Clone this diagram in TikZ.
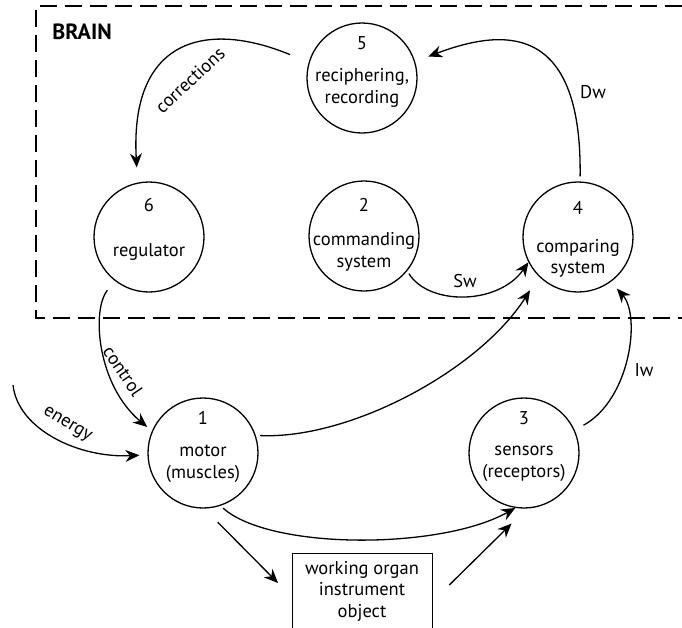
\documentclass[tikz,border=0pt]{standalone}
\usepackage{fontspec}
\setmainfont{PT Sans}
\usetikzlibrary{arrows.meta,calc}
\begin{document}
\begin{tikzpicture}[x=1pt,y=-1pt,
  unit/.style={circle,draw,line width=1.3pt,minimum size=110pt,inner sep=0pt},
  txt/.style={font=\fontsize{18.5}{21.5}\selectfont,align=center,inner sep=0pt},
  flow/.style={line width=1.3pt,-{Stealth[length=14pt,width=12pt,inset=4.5pt]}},
  lbl/.style={font=\fontsize{18.5}{20}\selectfont,inner sep=0pt}]
\useasboundingbox (0,0) rectangle (682,627);
\clip (0,0) rectangle (682,627);

% brain boundary (open to the right)
\draw[line width=1.3pt,dash pattern=on 17pt off 8pt]
  (682,6) -- (36,6) -- (36,318) -- (682,318);
\node[font=\fontsize{22}{24}\selectfont\bfseries,inner sep=0pt] (brain) at (82,32) {BRAIN};

% units
\node[unit] (n5) at (362,78) {};
\node[txt] (n5num) at (362,43) {5};
\node[txt] (n5txt) at (362,88) {reciphering,\\recording};

\node[unit] (n6) at (149,237) {};
\node[txt] (n6num) at (149,205) {6};
\node[txt] (n6txt) at (149,252) {regulator};

\node[unit] (n2) at (364,236) {};
\node[txt] (n2num) at (364,205) {2};
\node[txt] (n2txt) at (364,252) {commanding\\system};

\node[unit] (n4) at (578,237) {};
\node[txt] (n4num) at (578,208) {4};
\node[txt] (n4txt) at (578,258.5) {comparing\\system};

\node[unit] (n1) at (203,453) {};
\node[txt] (n1num) at (203,418) {1};
\node[txt] (n1txt) at (203,464) {motor\\(muscles)};

\node[unit] (n3) at (524,453) {};
\node[txt] (n3num) at (524,418) {3};
\node[txt] (n3txt) at (524,464) {sensors\\(receptors)};

% working organ box (runs past the lower edge)
\node[draw,line width=1.3pt,minimum width=140pt,minimum height=95pt,anchor=north west] (box) at (292,553) {};
\node[txt] (boxtxt) at (362,591) {working organ\\instrument\\object};

% connectors
\draw[flow] ($(n5.162)!-20pt!(n5)$) .. controls +(-85,-35) and +(-7,-128) .. ($(n6.100)!-15pt!(n6)$);
\node[lbl,rotate=43] (lcorr) at (190,80) {corrections};

\draw[flow] ($(n4.88)!-5pt!(n4)$) .. controls +(2,-157) and +(72,-27) .. ($(n5.18)!-14pt!(n5)$);
\node[lbl] (ldw) at (593,92) {Dw};

\draw[flow] ($(n2.-40)!-3pt!(n2)$) .. controls +(20,32) and +(-30,43) .. (n4.207);
\node[lbl] (lsw) at (465,281) {Sw};

\draw[flow] ($(n6.232)!-12pt!(n6)$) .. controls +(-16,20) and +(-50,-42) .. ($(n1.155)!-6pt!(n1)$);
\node[lbl,rotate=-56] (lctrl) at (123,371) {control};

\coordinate (ein) at (13,385);
\draw[flow] (ein) .. controls +(5,45) and +(-60,3) .. ($(n1.182)!-8pt!(n1)$);
\node[lbl,rotate=-31] (lenergy) at (67,425) {energy};

\draw[flow] ($(n1.17)!-4pt!(n1)$) .. controls +(90,4) and +(-51,80) .. ($(n4.228)!-16pt!(n4)$);

\draw[flow] ($(n3.25)!-10pt!(n3)$) .. controls +(47,-26) and +(24,27) .. ($(n4.-53)!-9pt!(n4)$);
\node[lbl] (liw) at (644,370) {Iw};

\draw[flow] ($(n1.-70)!-3pt!(n1)$) .. controls +(47,42) and +(-75,42) .. (n3.261);

\draw[flow] ($(n1.-78)!-15pt!(n1)$) -- ($(box.north west)+(-14,30)$);
\draw[flow] ($(box.north east)+(16,32)$) -- ($(n3.260)!-16pt!(n3)$);
\end{tikzpicture}
\end{document}
